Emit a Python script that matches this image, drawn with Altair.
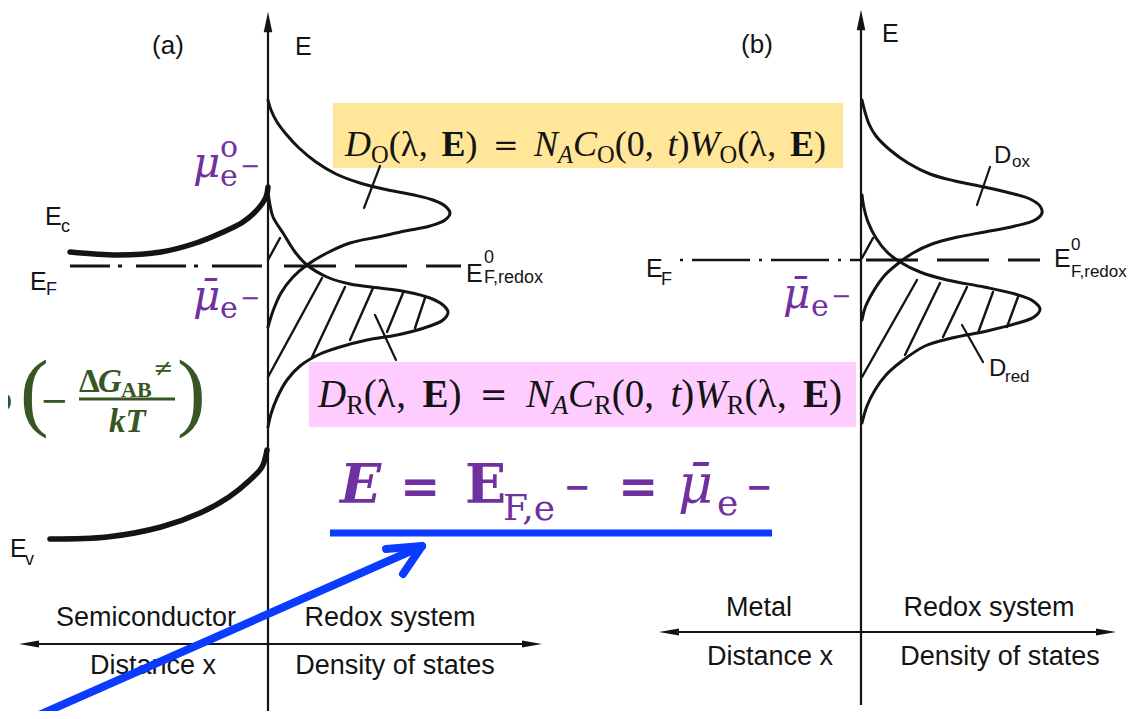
import altair as alt
import pandas as pd

W, H = 1122, 703
XS = alt.Scale(domain=[8, 1130], nice=False, zero=False)
YS = alt.Scale(domain=[8, 711], nice=False, zero=False, reverse=True)
INK = "#141414"
PURPLE = "#7030A0"
GREEN = "#375623"
BLUE = "#0B3BFF"

# ---------------- curves ----------------
ec_x = [70, 118, 161, 196, 221, 243, 257, 266, 268]
ec_y = [252, 255, 252, 243, 233, 222, 210, 197, 187]
ev_x = [50, 107, 161, 200, 229, 250, 262, 267]
ev_y = [539, 537, 527, 513, 497, 480, 467, 450]
a_ox_x = [268, 271, 277, 286, 299, 316, 336, 360, 388, 414, 433, 445, 450, 445, 430, 405, 378, 350, 327, 307, 293, 281, 273, 268]
a_ox_y = [100, 110, 122, 134, 148, 162, 174, 183, 190, 195, 200, 206, 213, 220, 226, 231, 237, 243, 253, 265, 277, 293, 311, 327]
a_red_x = [268, 270, 273, 283, 295, 307, 327, 350, 380, 407, 430, 443, 448, 443, 427, 397, 367, 340, 320, 300, 287, 277, 271, 268]
a_red_y = [192, 205, 217, 233, 252, 265, 277, 284, 288, 292, 298, 305, 312, 320, 327, 335, 340, 347, 354, 366, 380, 398, 414, 427]
b_ox_x = [862, 865, 869, 876, 890, 908, 930, 955, 984, 1010, 1030, 1040, 1042, 1035, 1015, 985, 958, 932, 913, 900, 885, 873, 865, 862]
b_ox_y = [100, 112, 124, 136, 150, 163, 174, 181, 187, 193, 199, 206, 213, 220, 226, 232, 237, 244, 253, 262, 275, 292, 308, 320]
b_red_x = [862, 864, 868, 876, 887, 900, 920, 947, 984, 1015, 1033, 1040, 1034, 1018, 987, 952, 925, 902, 886, 875, 867, 862]
b_red_y = [195, 208, 222, 238, 252, 262, 272, 280, 287, 294, 301, 309, 317, 323, 331, 338, 346, 361, 375, 390, 406, 423]

# ---------------- straight strokes ----------------
axes_seg = [(268, 30, 268, 719), (861, 28, 861, 705), (30, 644, 531, 644), (670, 632, 1105, 632)]
hatch_seg = [(268, 260, 280, 238), (268, 377, 322, 278), (312, 357, 345, 287), (350, 340, 373, 288),
             (387, 332, 403, 293), (415, 328, 425, 298),
             (862, 258, 873, 238), (862, 377, 917, 280), (905, 355, 940, 283), (943, 337, 967, 287),
             (978, 333, 993, 292), (1007, 327, 1018, 297)]
tick_seg = [(380, 166, 364, 208), (375, 315, 396, 360), (990, 167, 977, 205), (962, 325, 983, 362)]
ef_dashdot = [(70, 266, 267, 266), (680, 260, 861, 260)]
ef_dash = [(284, 266, 461, 266), (866, 260, 1040, 260)]
blue_seg = [(330, 533, 772, 533), (5, 730, 420, 547), (386, 549, 422, 546), (422, 546, 403, 574)]
frac_seg = [(79, 399, 175, 399)]

heads_up = [(268, 22), (861, 20)]
heads_left = [(29, 644), (669, 632)]
heads_right = [(532, 644), (1106, 632)]

boxes = [(333, 103, 843, 168, "#FFE699"), (309, 362, 856, 427, "#FFCCFF")]

# formula tokens: (text, kind); kind "gap" carries a weight in em
formula_o = [("D", "it"), ("O", "sub"), ("(", "rm"), ("λ", "rm"), (",", "rm"), ("", "gap", 0.25),
             ("E", "bf"), (")", "rm"), ("", "gap", 0.28), ("=", "eq"), ("", "gap", 0.28),
             ("N", "it"), ("A", "subit"), ("C", "it"), ("O", "sub"), ("(", "rm"), ("0", "rm"), (",", "rm"),
             ("", "gap", 0.25), ("t", "it"), (")", "rm"), ("W", "it"), ("O", "sub"), ("(", "rm"),
             ("λ", "rm"), (",", "rm"), ("", "gap", 0.25), ("E", "bf"), (")", "rm")]
formula_r = [(t[0].replace("O", "R"),) + t[1:] if t[1] == "sub" else t for t in formula_o]

TW = {
    "rm": {"(": 333, ")": 333, ",": 250, "0": 500, "O": 722, "R": 667, "λ": 500},
    "it": {"D": 722, "N": 667, "C": 667, "W": 833, "t": 278, "A": 611},
    "bf": {"E": 667},
}

SANS = "Liberation Sans"
SERIF = "Liberation Serif"
MATH = "DejaVu Serif"


def X():
    return alt.X("x:Q", scale=XS, axis=None)


def Y():
    return alt.Y("y:Q", scale=YS, axis=None)


def curve_layer(specs, width):
    rows = []
    for name, xs, ys in specs:
        for i, (a, b) in enumerate(zip(xs, ys)):
            rows.append({"c": name, "i": i, "x": a, "y": b})
    return alt.Chart(pd.DataFrame(rows)).mark_line(
        color=INK, strokeWidth=width, interpolate="catmull-rom", strokeCap="round",
        strokeJoin="round").encode(x=X(), y=Y(), detail="c:N", order="i:Q")


def seg_layer(segs, width, color=INK, dash=None, offset=0, cap="round"):
    df = pd.DataFrame(segs, columns=["x", "y", "x2", "y2"])
    kw = dict(color=color, strokeWidth=width, strokeCap=cap, clip=True)
    if dash:
        kw["strokeDash"] = dash
        kw["strokeDashOffset"] = offset
    return alt.Chart(df).mark_rule(**kw).encode(x=X(), y=Y(), x2="x2:Q", y2="y2:Q")


def head_layer(pts, shape, size):
    df = pd.DataFrame(pts, columns=["x", "y"])
    return alt.Chart(df).mark_point(shape=shape, filled=True, size=size, color=INK, opacity=1,
                                    strokeWidth=0).encode(x=X(), y=Y())


def txt(rows, font, size, style="normal", weight="normal", color=INK, align="left", baseline="alphabetic"):
    df = pd.DataFrame(rows, columns=["t", "x", "y"])
    return alt.Chart(df).mark_text(font=font, fontSize=size, fontStyle=style, fontWeight=weight,
                                   color=color, align=align, baseline=baseline).encode(
        x=X(), y=Y(), text="t:N")


def formula_layers(tokens, x0, x1, base, s, r=0.68, drop=0.19):
    eq_s = 0.85 * s

    def width(tok):
        t, k = tok[0], tok[1]
        if k == "gap":
            return tok[2] * s
        if k == "eq":
            return 0.838 * eq_s
        if k in ("rm", "bf", "it"):
            return TW[k][t] * s / 1000
        if k == "sub":
            return TW["rm"][t] * s * r / 1000
        return TW["it"][t] * s * r / 1000

    natural = sum(width(t) for t in tokens)
    gw = sum(t[2] for t in tokens if t[1] == "gap")
    extra = (x1 - x0 - natural) / gw
    groups = {}
    x = x0
    for tok in tokens:
        w = width(tok)
        if tok[1] == "gap":
            x += w + extra * tok[2]
            continue
        y = base + drop * s if tok[1] in ("sub", "subit") else base
        if tok[1] == "eq":
            y = base - 1
        groups.setdefault(tok[1], []).append((tok[0], x, y))
        x += w
    out = []
    style = {"rm": (SERIF, s, "normal", "normal"), "it": (SERIF, s, "italic", "normal"),
             "bf": (SERIF, s, "normal", "bold"), "sub": (SERIF, s * r, "normal", "normal"),
             "subit": (SERIF, s * r, "italic", "normal"), "eq": (MATH, eq_s, "normal", "normal")}
    for k, rows in groups.items():
        f, sz, st, wt = style[k]
        out.append(txt(rows, f, sz, style=st, weight=wt))
    return out


layers = []

bdf = pd.DataFrame(boxes, columns=["x", "y", "x2", "y2", "col"])
layers.append(alt.Chart(bdf).mark_rect().encode(
    x=X(), y=Y(), x2="x2:Q", y2="y2:Q", color=alt.Color("col:N", scale=None)))

layers.append(curve_layer([("ec", ec_x, ec_y), ("ev", ev_x, ev_y)], 5.5))
layers.append(curve_layer([("aox", a_ox_x, a_ox_y), ("ared", a_red_x, a_red_y),
                           ("box", b_ox_x, b_ox_y), ("bred", b_red_x, b_red_y)], 3))
layers.append(seg_layer(axes_seg, 2.2, cap="butt"))
layers.append(seg_layer(hatch_seg, 2.4))
layers.append(seg_layer(tick_seg, 2.2))
layers.append(seg_layer([ef_dashdot[0]], 2.8, dash=[50, 8, 4, 14], offset=10, cap="butt"))
layers.append(seg_layer([ef_dashdot[1]], 2.6, dash=[3, 9, 58, 9], cap="butt"))
layers.append(seg_layer(ef_dash, 3, dash=[52, 19], cap="butt"))
layers.append(head_layer(heads_up, "M0,-1L0.42,1L-0.42,1Z", 420))
layers.append(head_layer(heads_left, "M-1,0L1,-0.36L1,0.36Z", 400))
layers.append(head_layer(heads_right, "M1,0L-1,-0.36L-1,0.36Z", 400))

# plain labels
layers.append(txt([("(a)", 168, 46), ("(b)", 757, 45)], SANS, 26, align="center", baseline="middle"))
layers.append(txt([("E", 295, 55), ("E", 882, 42), ("E", 45, 225), ("E", 30, 290), ("E", 10, 557),
                   ("E", 646, 277), ("E", 466, 282), ("E", 1054, 267)], SANS, 25))
layers.append(txt([("c", 61, 232), ("F", 46, 295), ("v", 25, 565), ("F", 661, 285),
                   ("0", 484, 263), ("F,redox", 484, 283)], SANS, 18))
layers.append(txt([("0", 1071, 250), ("F,redox", 1071, 277)], SANS, 17))
layers.append(txt([("D", 994, 163), ("D", 989, 376)], SANS, 24))
layers.append(txt([("ox", 1012, 167), ("red", 1005, 382)], SANS, 17))
layers.append(txt([("Semiconductor", 146, 618), ("Redox system", 390, 618), ("Distance x", 153, 666),
                   ("Density of states", 395, 666), ("Metal", 759, 608), ("Redox system", 989, 608),
                   ("Distance x", 770, 657), ("Density of states", 1000, 657)], SANS, 27,
                  align="center", baseline="middle"))

# boxed formulas
layers += formula_layers(formula_o, 345, 826, 156, 36)
layers += formula_layers(formula_r, 318, 842, 407, 39)

# purple labels
layers.append(txt([("μ", 193, 177), ("μ̄", 193, 310), ("μ̄", 783, 308)], MATH, 42, style="italic", color=PURPLE))
layers.append(txt([("o", 220, 157), ("e", 220, 186), ("e", 220, 318), ("e", 811, 316)], MATH, 30, color=PURPLE))
layers.append(txt([("−", 240, 174), ("−", 240, 306), ("−", 831, 304)], MATH, 24, color=PURPLE))

# big purple formula
layers.append(txt([("E", 340, 503)], MATH, 54, style="italic", weight="bold", color=PURPLE))
layers.append(txt([("E", 465, 503)], MATH, 54, weight="bold", color=PURPLE))
layers.append(txt([("=", 400, 503), ("=", 618, 503)], MATH, 48, weight="bold", color=PURPLE))
layers.append(txt([("μ̄", 678, 503)], MATH, 54, style="italic", color=PURPLE))
layers.append(txt([("F,e", 503, 520), ("e", 717, 515)], MATH, 36, color=PURPLE))
layers.append(txt([("−", 564, 498), ("−", 746, 498)], MATH, 32, weight="bold", color=PURPLE))

# green formula
layers.append(txt([("exp", 12, 410)], SERIF, 33, weight="bold", color=GREEN, align="right"))
layers.append(txt([("(", 20, 420), (")", 177, 420)], SERIF, 86, color=GREEN))
layers.append(txt([("−", 40, 412)], MATH, 34, color=GREEN))
layers.append(txt([("Δ", 79, 392)], SERIF, 33, weight="bold", color=GREEN))
layers.append(txt([("G", 98, 392), ("kT", 109, 432)], SERIF, 33, style="italic", weight="bold", color=GREEN))
layers.append(txt([("AB", 121, 397)], SERIF, 22, weight="bold", color=GREEN))
layers.append(txt([("≠", 153, 376)], MATH, 24, color=GREEN))
layers.append(seg_layer(frac_seg, 3, color=GREEN, cap="butt"))

# blue underline + arrow
layers.append(seg_layer(blue_seg[:1], 7, color=BLUE, cap="butt"))
layers.append(seg_layer(blue_seg[1:], 8, color=BLUE))

chart = alt.layer(*layers).properties(
    width=W, height=H, padding=0, autosize=alt.AutoSizeParams(type="none"),
    background="white"
).configure_view(stroke=None)

chart.save("out.html", embed_options={"renderer": "svg", "actions": False})
